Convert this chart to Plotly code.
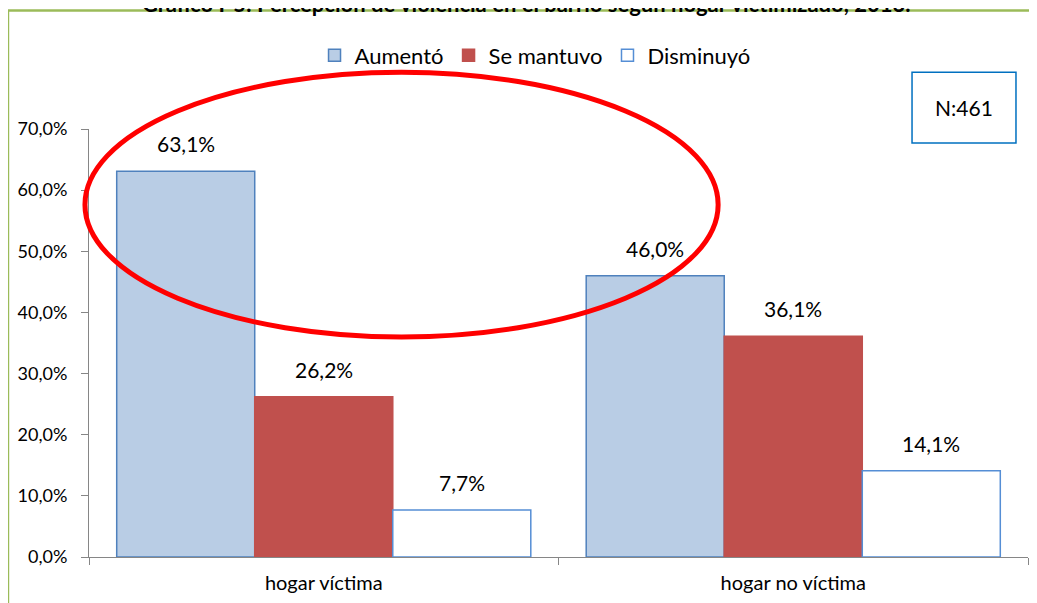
import plotly.graph_objects as go

categories = ["hogar víctima", "hogar no víctima"]
series_names = ["Aumentó", "Se mantuvo", "Disminuyó"]
aumento = [63.1, 46.0]
se_mantuvo = [26.2, 36.1]
disminuyo = [7.7, 14.1]
y_ticks = [0, 10, 20, 30, 40, 50, 60, 70]
y_tick_labels = ["0,0%", "10,0%", "20,0%", "30,0%", "40,0%", "50,0%", "60,0%", "70,0%"]
title_text = "Gráfico I-5: Percepción de violencia en el barrio según hogar victimizado, 2013."
n_text = "N:461"

series_values = [aumento, se_mantuvo, disminuyo]
fills = ["#B9CDE5", "#C0504D", "#FFFFFF"]
lines = ["#4F81BD", "#C0504D", "#558ED5"]

FONT = "Lato"
BARGAP = 0.118

fig = go.Figure()
for name, vals, fc, lc in zip(series_names, series_values, fills, lines):
    fig.add_trace(go.Bar(
        name=name, x=categories, y=vals,
        marker=dict(color=fc, line=dict(color=lc, width=1.5)),
    ))

# value labels above bars
bw = (1 - BARGAP) / len(series_names)
annotations = []
for i, vals in enumerate(series_values):
    for j, v in enumerate(vals):
        annotations.append(dict(
            x=j + (i - (len(series_names) - 1) / 2) * bw, y=v,
            xref="x", yref="y", text=f"{v:.1f}".replace(".", ",") + "%",
            showarrow=False, yanchor="bottom", yshift=13,
            font=dict(family=FONT, size=21, color="#000000"),
        ))

# title (partially cut at top of the picture)
annotations.append(dict(
    x=0.465, y=1.257, xref="paper", yref="paper", text="<b>" + title_text + "</b>",
    showarrow=False, xanchor="center", yanchor="bottom",
    font=dict(family=FONT, size=22, color="#000000"),
))
# N box text
annotations.append(dict(
    x=0.9318, y=1.05, xref="paper", yref="paper", text=n_text,
    showarrow=False, xanchor="center", yanchor="middle",
    font=dict(family=FONT, size=21, color="#000000"),
))

shapes = [
    # outer green frame (left and top edges visible)
    dict(type="line", xref="paper", yref="paper", x0=-0.0863, x1=-0.0863, y0=-0.3, y1=1.2767,
         line=dict(color="#9BBB59", width=2.5), layer="below"),
    dict(type="line", xref="paper", yref="paper", x0=-0.0863, x1=1.0096, y0=1.2767, y1=1.2767,
         line=dict(color="#9BBB59", width=2.5), layer="below"),
    # N box
    dict(type="rect", xref="paper", yref="paper", x0=0.8765, x1=0.9872, y0=0.9674, y1=1.1326,
         line=dict(color="#0070C0", width=1.5), fillcolor="white"),
    # red ellipse highlight
    dict(type="circle", xref="paper", yref="paper", x0=-0.0043, x1=0.670, y0=0.514, y1=1.1326,
         line=dict(color="#FF0000", width=5)),
]

fig.update_layout(
    width=1029, height=595,
    margin=dict(l=81, r=9, t=121, b=44),
    paper_bgcolor="white", plot_bgcolor="white",
    barmode="group", bargap=BARGAP, bargroupgap=0,
    separators=",.",
    font=dict(family=FONT, size=18, color="#000000"),
    legend=dict(orientation="h", x=0.475, y=1.172, xanchor="center", yanchor="middle",
                font=dict(family=FONT, size=22, color="#000000"),
                bgcolor="rgba(0,0,0,0)", itemwidth=30, traceorder="normal"),
    annotations=annotations,
    shapes=shapes,
    showlegend=True,
)
fig.update_yaxes(
    range=[0, 70], tickvals=y_ticks, ticktext=y_tick_labels,
    showgrid=False, zeroline=False, showline=True, linecolor="#868686", linewidth=1,
    ticks="outside", ticklen=7, tickcolor="#868686", ticklabelstandoff=10,
    tickfont=dict(family=FONT, size=18, color="#000000"),
)
fig.update_xaxes(
    showgrid=False, showline=True, linecolor="#868686", linewidth=1,
    ticks="outside", ticklen=7, tickcolor="#868686", tickson="boundaries",
    ticklabelstandoff=8,
    tickfont=dict(family=FONT, size=20, color="#000000"),
)

fig.write_html("out.html")
